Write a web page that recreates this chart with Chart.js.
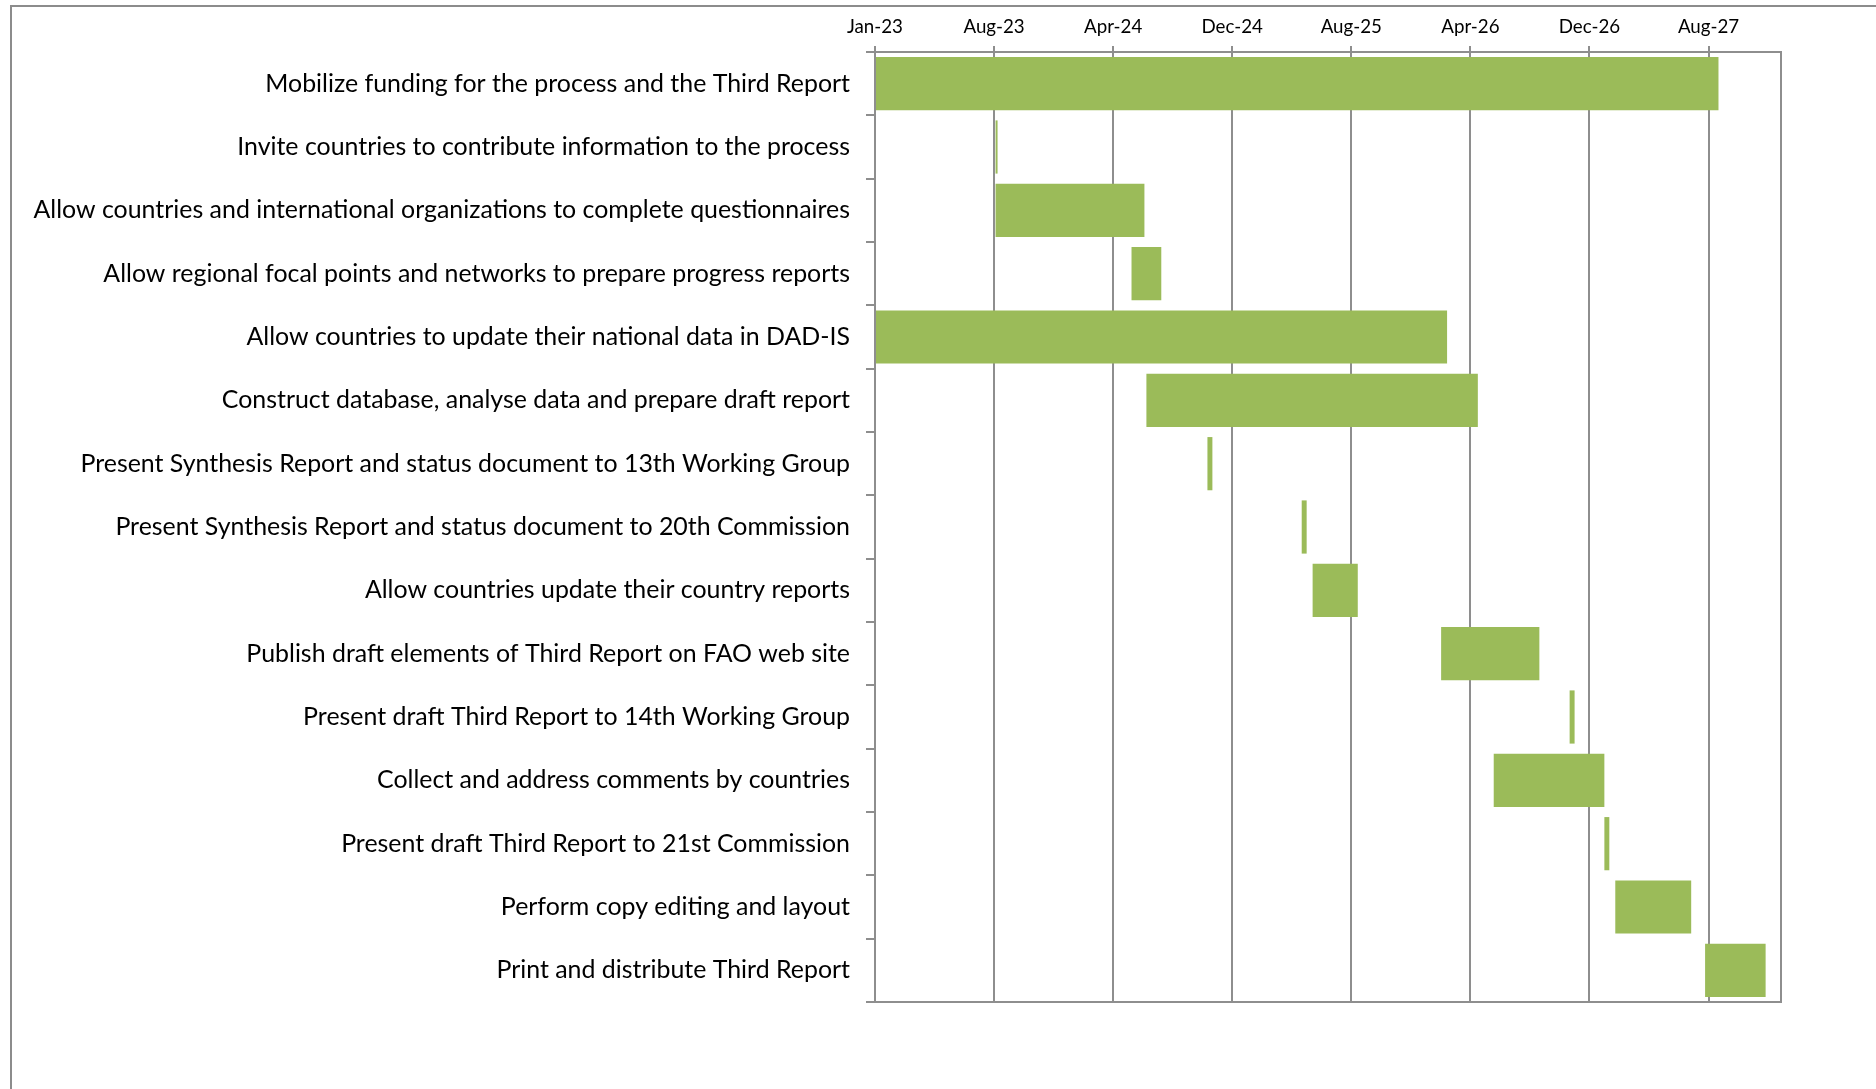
<!DOCTYPE html>
<html>
<head>
<meta charset="utf-8">
<script src="https://cdn.jsdelivr.net/npm/chart.js@4.4.0/dist/chart.umd.min.js"></script>
<style>
    html, body { margin: 0; padding: 0; background: #fff; }
    #wrap { position: relative; width: 1876px; height: 1089px; overflow: hidden; }
    #frame {
        position: absolute; left: 10px; top: 5px; right: -5px; bottom: -5px;
        border-top: 2px solid #8c8c8c; border-left: 2px solid #8c8c8c;
    }
    #ganttChart { position: absolute; left: 0; top: 0; }
</style>
</head>
<body>
<div id="wrap">
    <div id="frame"></div>
    <canvas id="ganttChart" width="1876" height="1089"></canvas>
</div>
<script>
// tasks, top to bottom
const tasks = [
    'Mobilize funding for the process and the Third Report',
    'Invite countries to contribute information to the process',
    'Allow countries and international organizations to complete questionnaires',
    'Allow regional focal points and networks to prepare progress reports',
    'Allow countries to update their national data in DAD-IS',
    'Construct database, analyse data and prepare draft report',
    'Present Synthesis Report and status document to 13th Working Group',
    'Present Synthesis Report and status document to 20th Commission',
    'Allow countries update their country reports',
    'Publish draft elements of Third Report on FAO web site',
    'Present draft Third Report to 14th Working Group',
    'Collect and address comments by countries',
    'Present draft Third Report to 21st Commission',
    'Perform copy editing and layout',
    'Print and distribute Third Report'
];

// days counted from 1 Jan 2023
const startDays = [0, 243, 243, 517, 0, 547, 670, 860, 882, 1141, 1400, 1247, 1470, 1492, 1673];
const endDays = [1700, 247, 543, 577, 1153, 1215, 680, 870, 973, 1339, 1410, 1470, 1480, 1645, 1795];

// x axis (days from 1 Jan 2023)
const tickDays = [0, 240, 480, 720, 960, 1200, 1440, 1680];
const tickLabels = ['Jan-23', 'Aug-23', 'Apr-24', 'Dec-24', 'Aug-25', 'Apr-26', 'Dec-26', 'Aug-27'];
const axisMin = 0;
const axisMax = 1826;

const gridColor = '#8e8e8e';
const barColor = '#9bbb59';
const fontFamily = 'Lato, "Open Sans", sans-serif';

// pick font sizes so text widths match the original
function fitSize(text, targetWidth) {
    const ctx = document.createElement('canvas').getContext('2d');
    ctx.font = '100px ' + fontFamily;
    return 100 * targetWidth / ctx.measureText(text).width;
}
const labelSize = fitSize(tasks[2], 817);
const tickSize = fitSize('Jan-23', 56);

const chartData = {
    labels: tasks,
    datasets: [{
        label: 'Schedule',
        data: tasks.map((t, i) => [startDays[i], endDays[i]]),
        backgroundColor: barColor,
        borderWidth: 0,
        barPercentage: 0.84,
        categoryPercentage: 1.0
    }]
};

new Chart(document.getElementById('ganttChart'), {
    type: 'bar',
    data: chartData,
    options: {
        indexAxis: 'y',
        responsive: false,
        animation: false,
        layout: { padding: { left: 0, top: 0, right: 95, bottom: 87 } },
        plugins: {
            legend: { display: false },
            tooltip: { enabled: false }
        },
        scales: {
            x: {
                type: 'linear',
                position: 'top',
                min: axisMin,
                max: axisMax,
                afterBuildTicks: function(scale) {
                    scale.ticks = tickDays.map(v => ({ value: v }));
                },
                afterFit: function(scale) { scale.height = 52; },
                ticks: {
                    autoSkip: false,
                    maxRotation: 0,
                    padding: 8,
                    color: '#000',
                    font: { family: fontFamily, size: tickSize },
                    callback: function(value, index) { return tickLabels[index]; }
                },
                grid: { color: gridColor, lineWidth: 2, tickLength: 6 },
                border: { color: gridColor, width: 2 }
            },
            x2: {
                type: 'linear',
                position: 'bottom',
                min: axisMin,
                max: axisMax,
                afterFit: function(scale) { scale.height = 0; },
                ticks: { display: false },
                grid: { drawOnChartArea: false, drawTicks: false },
                border: { color: gridColor, width: 2 }
            },
            y: {
                type: 'category',
                position: 'left',
                offset: true,
                afterFit: function(scale) { scale.width = 875; },
                ticks: {
                    autoSkip: false,
                    padding: 16,
                    color: '#000',
                    font: { family: fontFamily, size: labelSize }
                },
                grid: { offset: true, drawOnChartArea: false, color: gridColor, lineWidth: 2, tickLength: 9 },
                border: { color: gridColor, width: 2 }
            },
            y2: {
                type: 'linear',
                position: 'right',
                min: 0,
                max: 1,
                afterFit: function(scale) { scale.width = 0; },
                ticks: { display: false },
                grid: { drawOnChartArea: false, drawTicks: false },
                border: { color: gridColor, width: 2 }
            }
        }
    }
});
</script>
</body>
</html>
